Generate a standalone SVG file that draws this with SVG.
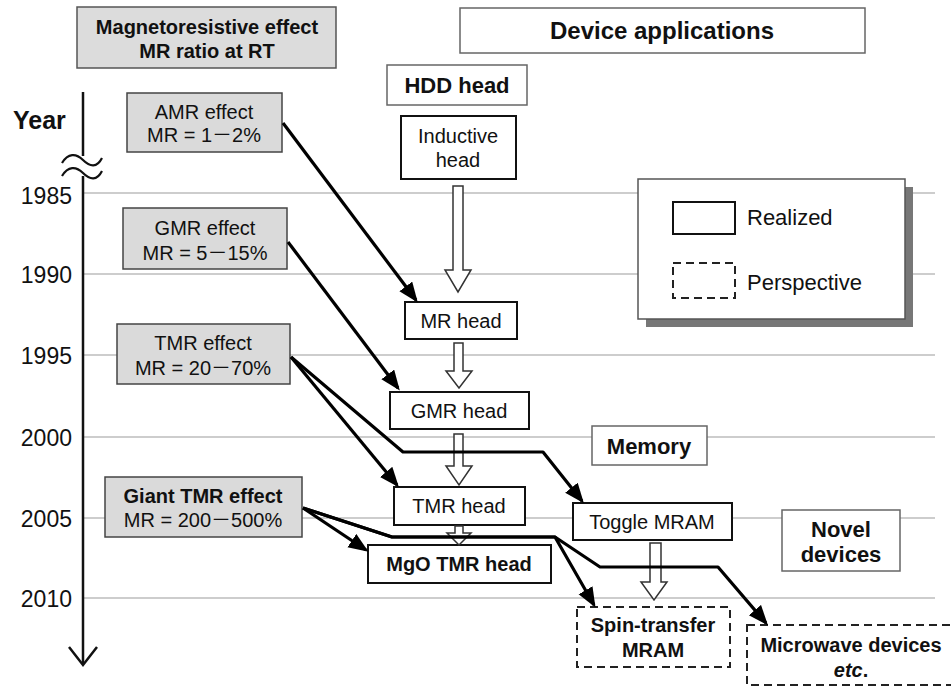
<svg xmlns="http://www.w3.org/2000/svg" width="951" height="689" viewBox="0 0 951 689">
<style>
text{font-family:"Liberation Sans",Arial,"Noto Sans CJK JP",sans-serif;fill:#111}
.b{font-weight:bold}
.f20{font-size:20px}
.f22{font-size:22px}
.grid{stroke:#bdbdbd;stroke-width:1.6}
.yr{font-size:23px;text-anchor:end}
.hdr{fill:#dcdcdc;stroke:#555;stroke-width:1.5}
.eff{fill:#dadada;stroke:#444;stroke-width:1.5}
.cat{fill:#fff;stroke:#666;stroke-width:1.5}
.node{fill:#fff;stroke:#111;stroke-width:2}
.dash{fill:#fff;stroke:#222;stroke-width:2;stroke-dasharray:8 5}
.hol{fill:#fff;stroke:#333;stroke-width:1.5;stroke-linejoin:miter}
.blk{fill:none;stroke:#000;stroke-width:3.2;stroke-linejoin:round;marker-end:url(#ah)}
.c{text-anchor:middle}
</style>
<defs>
<marker id="ah" markerUnits="userSpaceOnUse" markerWidth="22" markerHeight="18" refX="17" refY="8" orient="auto">
<path d="M0,0 L20,8 L0,16 z" fill="#000"/>
</marker>
</defs>
<rect width="951" height="689" fill="#fff"/>
<g id="gridlines">
<line class="grid" x1="83" y1="193" x2="935" y2="193"/>
<line class="grid" x1="83" y1="274" x2="935" y2="274"/>
<line class="grid" x1="83" y1="355" x2="935" y2="355"/>
<line class="grid" x1="83" y1="437" x2="935" y2="437"/>
<line class="grid" x1="83" y1="518" x2="935" y2="518"/>
<line class="grid" x1="83" y1="598" x2="935" y2="598"/>
</g>
<g id="axis">
<text class="b" x="13" y="129" style="font-size:25px">Year</text>
<line x1="83" y1="92" x2="83" y2="156" stroke="#111" stroke-width="2.5"/>
<line x1="83" y1="176" x2="83" y2="664" stroke="#111" stroke-width="2.5"/>
<path d="M62,163 C68,153 76,153 83,160 S97,168 102,158" fill="none" stroke="#111" stroke-width="2.2"/>
<path d="M62,176 C68,166 76,166 83,173 S97,181 102,171" fill="none" stroke="#111" stroke-width="2.2"/>
<path d="M69,647 L83,665 L97,647" fill="none" stroke="#111" stroke-width="2.5"/>
<text class="yr" x="72" y="204">1985</text>
<text class="yr" x="72" y="283">1990</text>
<text class="yr" x="72" y="364">1995</text>
<text class="yr" x="72" y="446">2000</text>
<text class="yr" x="72" y="527">2005</text>
<text class="yr" x="72" y="607">2010</text>
</g>
<g id="hdr-mr">
<rect class="hdr" x="77" y="7" width="259" height="61"/>
<text class="b c" x="207" y="34" style="font-size:20px">Magnetoresistive effect</text>
<text class="b c" x="207" y="58" style="font-size:20px">MR ratio at RT</text>
</g>
<g id="hdr-dev">
<rect class="cat" x="460" y="8" width="405" height="45"/>
<text class="b c" x="662" y="39" style="font-size:24px">Device applications</text>
</g>
<g id="amr">
<rect class="eff" x="127" y="93" width="155" height="59"/>
<text class="c f20" x="204" y="119">AMR effect</text>
<text class="c f20" x="204" y="142">MR = 1－2%</text>
</g>
<g id="gmr">
<rect class="eff" x="123" y="208" width="164" height="61"/>
<text class="c f20" x="205" y="235">GMR effect</text>
<text class="c f20" x="205" y="260">MR = 5－15%</text>
</g>
<g id="tmr">
<rect class="eff" x="117" y="324" width="173" height="60"/>
<text class="c f20" x="203" y="350">TMR effect</text>
<text class="c f20" x="203" y="375">MR = 20－70%</text>
</g>
<g id="gtmr">
<rect class="eff" x="105" y="477" width="197" height="60"/>
<text class="c f20 b" x="203" y="503">Giant TMR effect</text>
<text class="c f20" x="203" y="527">MR = 200－500%</text>
</g>
<g id="hdd">
<rect class="cat" x="387" y="65" width="140" height="40"/>
<text class="b c f22" x="457" y="93">HDD head</text>
</g>
<g id="inductive">
<rect class="node" x="401" y="116" width="115" height="63"/>
<text class="c f20" x="458" y="143">Inductive</text>
<text class="c f20" x="458" y="167">head</text>
</g>
<g id="mrhead">
<rect class="node" x="405" y="302" width="112" height="37"/>
<text class="c f20" x="461" y="328">MR head</text>
</g>
<g id="gmrhead">
<rect class="node" x="390" y="392" width="139" height="37"/>
<text class="c f20" x="459" y="418">GMR head</text>
</g>
<g id="tmrhead">
<rect class="node" x="394" y="487" width="131" height="38"/>
<text class="c f20" x="459" y="513">TMR head</text>
</g>
<g id="mgo">
<rect class="node" x="368" y="545" width="183" height="38"/>
<text class="c f20 b" x="459" y="571">MgO TMR head</text>
</g>
<g id="memory">
<rect class="cat" x="592" y="426" width="115" height="39"/>
<text class="b c f22" x="649" y="454">Memory</text>
</g>
<g id="toggle">
<rect class="node" x="573" y="503" width="159" height="37"/>
<text class="c f20" x="652" y="529">Toggle MRAM</text>
</g>
<g id="novel">
<rect class="cat" x="782" y="510" width="118" height="61"/>
<text class="b c f22" x="841" y="537">Novel</text>
<text class="b c f22" x="841" y="562">devices</text>
</g>
<g id="spin">
<rect class="dash" x="577" y="607" width="153" height="60"/>
<text class="b c f20" x="653" y="632">Spin-transfer</text>
<text class="b c f20" x="653" y="657">MRAM</text>
</g>
<g id="microwave">
<rect class="dash" x="747" y="625" width="210" height="60"/>
<text class="b c f20" x="851" y="652">Microwave devices</text>
<text class="b c f20" x="851" y="677" font-style="italic">etc<tspan font-style="normal">.</tspan></text>
</g>
<g id="legend">
<rect x="646" y="187" width="267" height="140" fill="#777"/>
<rect x="638" y="179" width="267" height="140" fill="#fff" stroke="#555" stroke-width="1.5"/>
<rect class="node" x="673" y="202" width="62" height="32"/>
<text class="f22" x="747" y="225">Realized</text>
<rect class="dash" x="673" y="263" width="62" height="35"/>
<text class="f22" x="747" y="290">Perspective</text>
</g>
<g id="connectors">
<path class="hol" d="M453,186 H463 V270 H471 L458,292 L445,270 H453 Z"/>
<path class="hol" d="M454,343 H463 V371 H472 L459,388 L446,371 H454 Z"/>
<path class="hol" d="M454,434 H463 V466 H472 L459,485 L446,466 H454 Z"/>
<path class="hol" d="M455,526 H463 V533 H471 L459,545 L447,533 H455 Z"/>
<path class="hol" d="M650,543 H661 V582 H667 L654,600 L641,582 H650 Z"/>
<path class="blk" d="M283,123 L416,300"/>
<path class="blk" d="M288,242 L398,388"/>
<path class="blk" d="M291,357 L397,485"/>
<path class="blk" d="M291,357 L403,452 L543,452 L582,501"/>
<path class="blk" d="M303,508 L366,550"/>
<path class="blk" d="M303,508 L392,537 L555,537 L594,605"/>
<path class="blk" d="M303,508 L392,537 L555,537 L600,567 L718,567 L766,623"/>
</g>
</svg>
